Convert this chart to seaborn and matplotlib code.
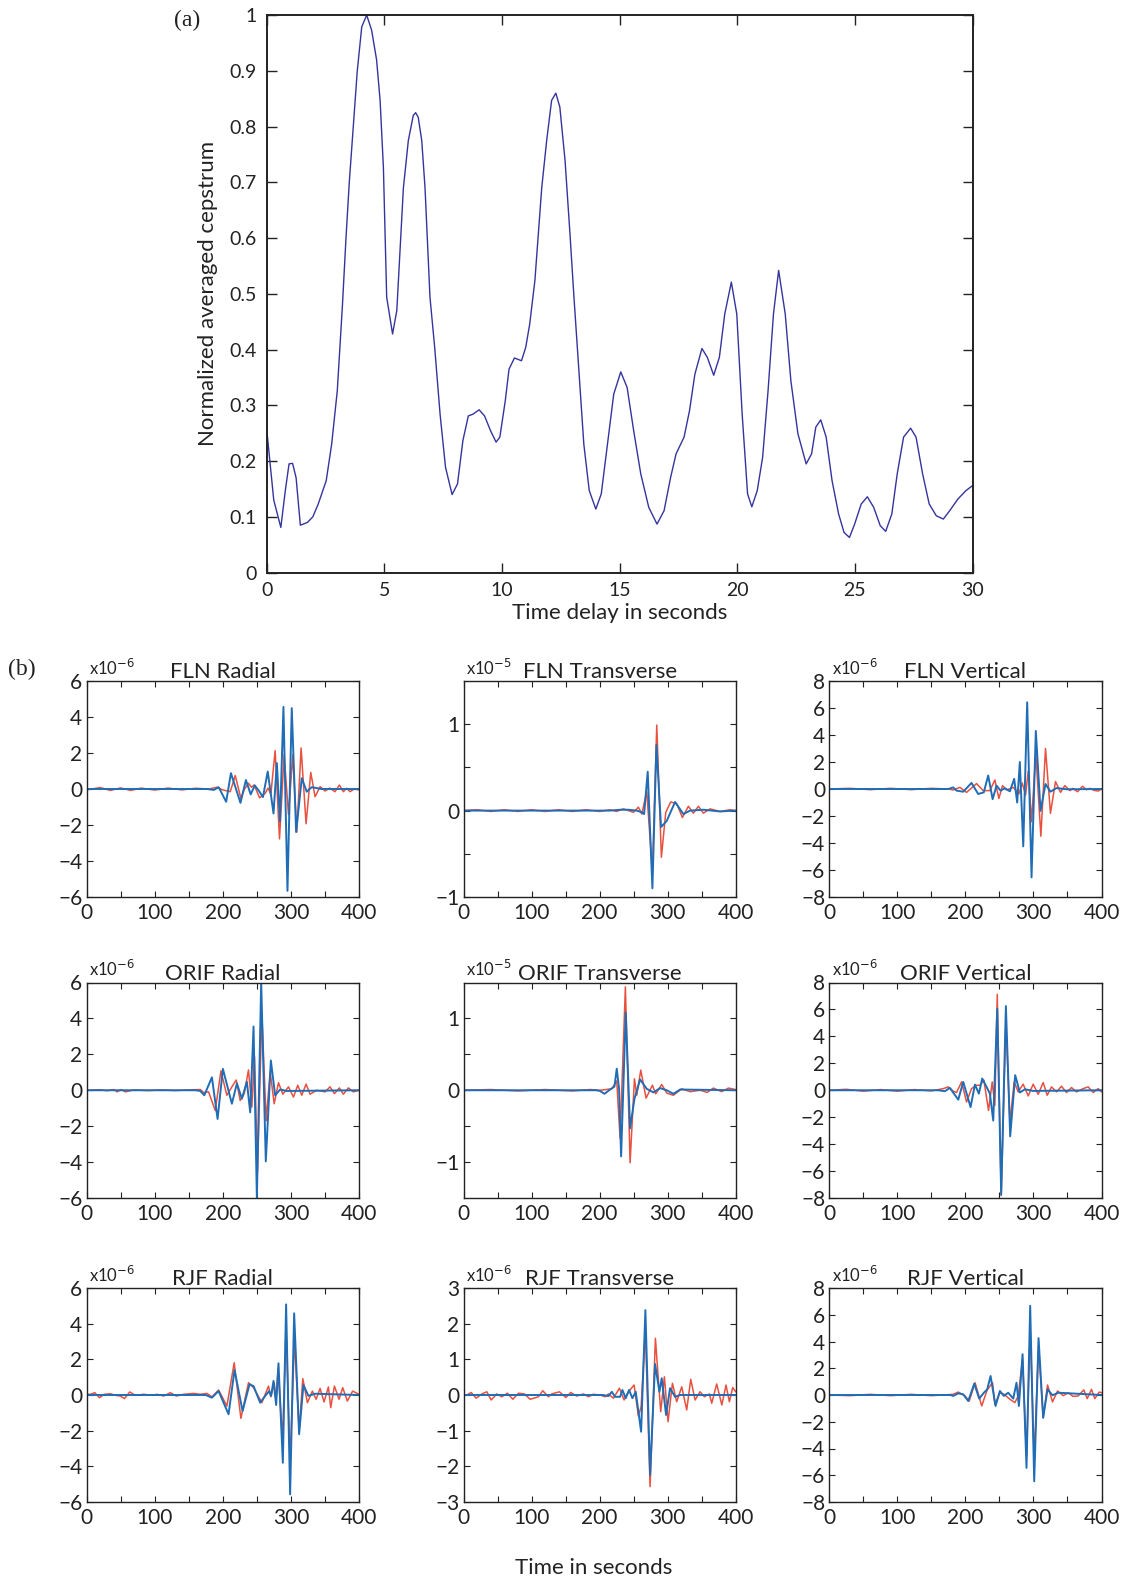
import numpy as np
import pandas as pd
import matplotlib
matplotlib.use("Agg")
import matplotlib.pyplot as plt
from matplotlib import font_manager
import seaborn as sns

# ---------------- data: panel (a) ----------------
top_t = [0, 0.3, 0.6, 0.8, 0.95, 1.1, 1.25, 1.43, 1.73, 1.96,
         2.19, 2.53, 2.76, 3.0, 3.22, 3.37, 3.51, 3.68, 3.85, 4.04,
         4.25, 4.46, 4.67, 4.82, 4.96, 5.1, 5.35, 5.53, 5.81, 6.02,
         6.23, 6.33, 6.44, 6.59, 6.73, 6.94, 7.14, 7.37, 7.6, 7.88,
         8.11, 8.34, 8.57, 8.76, 9.03, 9.26, 9.52, 9.75, 9.91, 10.14,
         10.3, 10.53, 10.83, 11.01, 11.18, 11.4, 11.69, 11.9, 12.11, 12.29,
         12.46, 12.68, 12.89, 13.06, 13.25, 13.48, 13.71, 13.99, 14.22, 14.47,
         14.75, 15.05, 15.32, 15.6, 15.9, 16.24, 16.59, 16.89, 17.17, 17.4,
         17.74, 17.97, 18.2, 18.5, 18.73, 19.0, 19.24, 19.47, 19.75, 19.98,
         20.21, 20.44, 20.62, 20.85, 21.08, 21.31, 21.54, 21.76, 22.04, 22.28,
         22.58, 22.93, 23.16, 23.34, 23.55, 23.78, 24.03, 24.31, 24.54, 24.77,
         24.99, 25.27, 25.53, 25.8, 26.08, 26.31, 26.57, 26.8, 27.07, 27.37,
         27.6, 27.88, 28.16, 28.46, 28.76, 29.03, 29.38, 29.72, 30.0]
top_v = [0.257, 0.13, 0.081, 0.15, 0.195, 0.196, 0.17, 0.085, 0.09, 0.10,
         0.123, 0.165, 0.23, 0.326, 0.48, 0.6, 0.7, 0.8, 0.9, 0.979,
         1.0, 0.973, 0.92, 0.847, 0.727, 0.494, 0.428, 0.47, 0.69, 0.775,
         0.82, 0.825, 0.817, 0.775, 0.69, 0.494, 0.404, 0.284, 0.189, 0.14,
         0.159, 0.237, 0.281, 0.284, 0.292, 0.281, 0.254, 0.234, 0.243, 0.308,
         0.365, 0.385, 0.380, 0.404, 0.446, 0.524, 0.69, 0.775, 0.847, 0.86,
         0.835, 0.74, 0.608, 0.494, 0.374, 0.23, 0.147, 0.114, 0.141, 0.225,
         0.32, 0.36, 0.332, 0.254, 0.177, 0.117, 0.087, 0.111, 0.171, 0.213,
         0.243, 0.29, 0.356, 0.402, 0.386, 0.354, 0.386, 0.464, 0.521, 0.464,
         0.284, 0.141, 0.118, 0.147, 0.207, 0.326, 0.464, 0.542, 0.464, 0.344,
         0.249, 0.195, 0.213, 0.261, 0.274, 0.243, 0.165, 0.105, 0.072, 0.063,
         0.087, 0.123, 0.136, 0.117, 0.084, 0.074, 0.105, 0.177, 0.243, 0.259,
         0.243, 0.177, 0.123, 0.102, 0.096, 0.111, 0.132, 0.147, 0.156]

# ---------------- data: panel (b) ----------------
# FLN Radial (x1e-6)
fln_rad_blue_t = [0, 150, 177, 187, 194, 205, 212, 226, 234, 241, 247, 253, 259, 266, 274.5, 279.4, 284, 289.1, 295, 301.3, 307.7, 316, 323.3, 330.6, 345, 400]
fln_rad_blue_v = [0, 0, 0, -0.05, 0.1, -0.71, 0.88, -0.77, 0.5, -0.3, 0.2, -0.1, -0.45, 0.97, -1.36, 1.44, -1.8, 4.56, -5.66, 4.49, -2.39, 0.6, -0.15, 0.1, 0, 0]
fln_rad_red_t = [0, 20, 35, 50, 65, 80, 100, 120, 140, 160, 180, 191.5, 200, 211, 218.3, 226.6, 232, 237.8, 242, 246.2, 254, 262.3, 266.5, 270.6, 276.9, 283.3, 290.1, 296.5, 302.8, 308.7, 315, 322.3, 329.2, 335.5, 342.9, 350.2, 357, 364.8, 371.2, 377, 381.9, 386.8, 393, 400]
fln_rad_red_v = [-0.05, 0.08, -0.08, 0.06, -0.08, 0.05, -0.06, 0.05, -0.05, 0.04, 0, 0.1, -0.05, -0.15, 0.75, -0.52, 0.0, 0.32, 0.1, 0.22, -0.49, -0.24, 0.05, -0.3, 2.13, -2.77, 1.9, -1.42, 1.9, -2.39, 2.28, -1.93, 0.92, -0.43, 0.13, -0.11, 0.05, -0.15, 0.22, -0.15, 0.04, -0.15, 0.0, -0.05]

# FLN Transverse (x1e-5)
fln_tra_blue_t = [0, 215, 230, 242, 254.6, 261.9, 265.4, 270.7, 277.6, 283.5, 290.3, 298.6, 310.9, 323.1, 332.9, 352.5, 377, 400]
fln_tra_blue_v = [0, 0, 0.01, 0.01, 0, -0.02, -0.04, 0.45, -0.9, 0.76, -0.19, -0.12, 0.1, -0.04, 0, 0.01, -0.01, 0]
fln_tra_red_t = [0, 20, 40, 60, 80, 100, 120, 140, 160, 180, 200, 215, 225, 235, 249.7, 257, 262, 269.3, 277.6, 284, 290.8, 297.2, 304.5, 313.3, 321.7, 330.5, 337.8, 345.2, 352.5, 362.3, 377, 391.7, 400]
fln_tra_red_v = [0, 0.01, -0.01, 0.01, -0.01, 0.01, -0.01, 0.01, -0.01, 0.01, -0.01, 0.01, -0.01, 0.02, -0.02, 0.04, -0.04, 0.22, -0.71, 0.99, -0.54, -0.02, 0.1, 0.08, -0.08, 0.05, -0.03, 0.05, -0.03, 0.02, -0.01, 0.01, 0]

# FLN Vertical (x1e-6)
fln_ver_blue_t = [0, 175, 182, 187, 196.8, 209, 218.8, 227, 233.5, 240, 245.8, 251.6, 258, 265.4, 271.7, 276.1, 280, 285, 290.8, 297.2, 303.5, 310.4, 317.7, 325, 333.9, 348.6, 400]
fln_ver_blue_v = [0, 0, 0.12, -0.12, -0.2, 0.45, -0.37, -0.25, 1.0, -0.75, 0.25, -0.12, 0.05, -0.17, 0.75, -1.0, 2.0, -4.25, 6.42, -6.55, 4.3, -1.62, 0.37, -0.2, 0.07, -0.02, 0]
fln_ver_red_t = [0, 30, 60, 90, 120, 150, 175, 182, 192, 201.7, 216.4, 226.2, 236, 243.3, 249.2, 254.6, 260.5, 270.3, 278.6, 283.5, 288.4, 292.3, 297.2, 303.5, 310.9, 317.7, 325, 332.4, 339.8, 346.1, 353.5, 358, 364.7, 372.1, 378, 382.9, 389, 395.1, 400]
fln_ver_red_v = [0, 0.05, -0.05, 0.05, -0.05, 0.05, 0, -0.07, 0.12, -0.25, 0.4, -0.12, -0.12, 0.67, -0.7, 0.25, -0.07, 0.12, -0.37, 0.45, -0.45, 1.32, -2.42, 2.67, -3.5, 3.0, -1.8, 0.55, -0.25, 0.25, -0.12, 0.05, -0.2, 0.2, -0.05, 0.05, -0.1, -0.15, 0]

# ORIF Radial (x1e-6)
orif_rad_blue_t = [0, 160, 167, 172.9, 184.1, 192.4, 200.2, 213.4, 220.8, 228.1, 235.4, 240.3, 245.2, 250.1, 256.4, 263.2, 270.6, 276.9, 284.2, 294, 400]
orif_rad_blue_v = [0, 0, -0.04, -0.28, 0.72, -1.6, 1.19, -0.75, 0.38, -0.47, 0.47, -1.23, 3.55, -6.04, 6.04, -3.96, 1.66, -0.28, 0.04, -0.04, 0]
orif_rad_red_t = [0, 20, 30, 40, 45, 50.8, 57, 70, 90, 110, 130, 150, 167, 171.9, 179.2, 189, 197.3, 206, 213.4, 219.8, 225.6, 231.5, 237.8, 242.7, 246.6, 251, 257.4, 263.7, 269.6, 275.5, 281.8, 288.2, 296.5, 303.8, 310.1, 316, 322.3, 328.2, 338, 350.2, 357.5, 363.9, 371.2, 377, 384.4, 391.7, 400]
orif_rad_red_v = [0, 0.03, -0.03, 0.04, -0.09, 0.04, -0.09, 0.02, -0.02, 0.02, -0.02, 0.02, 0.04, -0.13, -0.09, -1.13, 1.08, -0.28, 0.19, 0.57, -0.57, -0.19, 1.13, -0.94, 1.89, -4.53, 4.25, -1.7, 1.04, -0.75, 0.42, -0.22, 0.19, -0.38, 0.28, -0.28, 0.34, -0.22, 0.0, -0.09, 0.19, -0.19, 0.13, -0.22, 0.13, -0.09, 0]

# ORIF Transverse (x1e-5)
orif_tra_blue_t = [0, 195, 200.7, 207.1, 215.4, 221.8, 225.2, 228.6, 231.6, 238.4, 244.8, 251.2, 259.5, 269.3, 279.1, 288.9, 298.7, 308.4, 318.2, 400]
orif_tra_blue_v = [0, 0, -0.01, -0.05, 0.01, 0.05, 0.3, 0.02, -0.92, 1.08, -0.53, -0.12, 0.15, 0.02, -0.03, 0.03, 0, -0.05, 0.01, 0]
orif_tra_red_t = [0, 40, 80, 120, 160, 186, 200.7, 217.9, 225.2, 230.1, 237.9, 244.8, 251.2, 254.6, 260.5, 268.3, 277.6, 282.5, 291.3, 298.7, 308.4, 320.7, 333, 347.6, 358, 367.2, 379.4, 389.2, 400]
orif_tra_red_v = [0, 0.01, -0.01, 0.01, -0.01, 0.01, 0, 0.02, 0.13, -0.67, 1.44, -1.01, 0.16, -0.07, 0.28, -0.11, 0.07, -0.05, 0.08, -0.04, -0.07, 0.02, -0.02, 0, -0.03, 0.03, -0.02, 0.03, 0.01]

# ORIF Vertical (x1e-6)
orif_ver_blue_t = [0, 160, 169.9, 177.2, 189.5, 196.8, 207.6, 214, 219.8, 224.7, 231.1, 236, 240.9, 246.8, 252.6, 259.5, 265.8, 273.2, 280, 287.4, 299.6, 400]
orif_ver_blue_v = [0, 0, -0.07, 0.17, -0.7, 0.62, -1.25, 0.42, -0.25, 0.87, 0.25, -0.25, -2.25, 6.05, -7.75, 6.25, -3.42, 1.12, -0.17, 0.07, -0.05, 0]
orif_ver_red_t = [0, 25, 50, 75, 100, 125, 150, 167.4, 174.8, 182.1, 187, 194.4, 201.7, 209, 216.4, 221.3, 227.2, 234, 239.4, 243.3, 246.8, 252.6, 259.5, 265.4, 271.7, 277.6, 284.9, 292.3, 299.6, 307, 314.3, 320.2, 326.6, 333.9, 341.2, 348.6, 355.9, 363.3, 373.1, 380.4, 387.8, 395.1, 400]
orif_ver_red_v = [0, 0.07, -0.07, 0.05, -0.07, 0.05, -0.05, 0.12, 0.25, -0.07, -0.17, 0.62, -0.87, 0.12, 0.37, 0.37, 0.75, -1.5, 0.62, -1.12, 7.12, -7.82, 5.12, -2.37, 0.62, -0.12, 0.45, -0.42, 0.45, -0.3, 0.57, -0.37, 0.25, -0.12, 0.3, -0.17, 0.2, -0.12, 0.12, 0.25, -0.17, 0.12, -0.12]

# RJF Radial (x1e-6)
rjf_rad_blue_t = [0, 175, 184.1, 193.9, 208.5, 217.3, 229.1, 239.3, 245.2, 254.9, 262.3, 268.1, 271, 274.5, 278.4, 281.8, 288.2, 293, 298.9, 304.8, 312.1, 318.4, 325.8, 335.5, 400]
rjf_rad_blue_v = [0, 0, -0.15, 0.22, -1.08, 1.4, -0.9, 0.6, 0.5, -0.43, -0.05, 0.22, -0.05, 0.79, -0.56, 1.78, -3.8, 5.08, -5.57, 4.58, -2.2, 0.56, -0.05, 0.07, 0]
rjf_rad_red_t = [0, 5.9, 12.2, 19, 26.4, 35.2, 42.5, 49.8, 55.7, 63.5, 71.8, 84, 96.2, 103.5, 113.3, 123, 131.9, 142.6, 157.3, 167, 176.8, 184.1, 193.9, 206.1, 216.8, 226.6, 237.8, 245.2, 257.4, 267.2, 270.5, 275.5, 278.2, 281.2, 287.7, 293, 298.9, 305.3, 312.1, 317.5, 324.3, 331.6, 337, 342.9, 348.7, 355.1, 358.5, 363.9, 370.7, 376.1, 382.9, 390.7, 400]
rjf_rad_red_v = [0.04, 0.04, 0.13, -0.15, 0.04, 0.07, -0.02, -0.06, -0.2, 0.17, -0.02, 0.04, -0.02, 0.04, -0.06, 0.13, -0.06, 0.04, 0.09, 0.04, 0.09, -0.11, 0.28, -0.62, 1.81, -1.31, 0.69, 0.41, -0.43, 0.5, -0.1, 0.7, -0.3, 1.5, -2.49, 3.68, -3.7, 3.12, -2.02, 0.92, -0.43, 0.22, -0.24, 0.37, -0.39, 0.45, -0.71, 0.5, -0.24, 0.41, -0.34, 0.22, 0.04]

# RJF Transverse (x1e-6)
rjf_tra_blue_t = [0, 205, 213, 217.9, 222.8, 230.1, 233.5, 238.4, 243.3, 248.2, 253.1, 261, 267.3, 274.2, 281.5, 287.9, 291.3, 297.7, 303.5, 310.9, 318.2, 400]
rjf_tra_blue_v = [0, 0, -0.03, 0.09, -0.05, -0.05, 0.14, -0.09, 0.14, -0.09, 0.09, -1.03, 2.38, -2.24, 0.87, 0.09, 0.47, -0.56, 0.19, -0.05, 0, 0]
rjf_tra_red_t = [0, 4.9, 11.3, 18.6, 26.9, 34.3, 40.6, 49, 56.3, 64.6, 72.5, 80.8, 89.6, 97.9, 110.2, 116.5, 124.8, 129.7, 141, 150.3, 157.6, 166.5, 176.3, 183.6, 190.9, 200.7, 208.1, 213, 220.3, 229.1, 236, 242.3, 250.7, 257, 261, 267.3, 274.2, 282, 289.8, 295.2, 300.6, 307, 313.3, 320.7, 328, 333.9, 340.3, 347.6, 353.9, 361.3, 364.8, 372.1, 379.6, 385.8, 390.7, 395.6, 400]
rjf_tra_red_v = [0, 0, 0.07, -0.09, 0.03, 0.09, -0.14, 0.03, -0.05, 0.05, -0.12, 0.05, 0.03, -0.12, -0.05, 0.12, -0.05, 0.03, 0.09, -0.07, 0.07, -0.03, 0.03, -0.05, 0.02, 0, -0.05, 0.03, -0.09, 0.19, -0.14, 0.09, 0.28, -0.59, -0.33, 1.8, -2.57, 1.59, -0.47, 0.51, -0.75, 0.33, -0.19, 0.23, -0.42, 0.44, -0.14, 0.09, -0.05, 0.03, -0.23, 0.31, -0.28, 0.28, -0.19, 0.21, 0.09]

# RJF Vertical (x1e-6)
rjf_ver_blue_t = [0, 178, 182, 189.5, 196.8, 204.2, 213, 220.3, 227.2, 232, 237, 244.3, 250.7, 256.5, 262.9, 270.3, 275.1, 278.6, 284, 289.8, 295.2, 301.1, 307.5, 314.3, 320.7, 328, 336.4, 400]
rjf_ver_blue_v = [0, 0, -0.07, 0.12, 0.05, -0.45, 0.85, -0.27, 0.17, 0.42, 1.42, -0.82, 0.3, -0.07, 0.17, -0.27, 0.92, -0.82, 3.05, -5.45, 6.67, -6.45, 4.25, -1.7, 0.42, -0.02, 0.17, 0]
rjf_ver_red_t = [0, 30, 60, 90, 120, 150, 182, 189.5, 199.3, 205.6, 214.2, 224, 232, 239.9, 243.3, 250.7, 257, 265.4, 272.7, 277.6, 284, 289.8, 295.2, 301.1, 307.5, 314.3, 320.7, 328, 335.4, 343.7, 351, 358, 365.7, 374, 379, 385.3, 390.2, 396.6, 400]
rjf_ver_red_v = [0, -0.05, 0.05, -0.05, 0.05, -0.05, 0.05, 0.22, -0.07, -0.45, 0.92, -0.82, 0.38, 0.92, -0.7, 0.17, 0.05, -0.32, -0.57, -0.07, 2.67, -4.58, 4.92, -4.7, 3.67, -1.7, 0.75, -0.52, 0.3, -0.05, 0.17, -0.1, -0.07, 0.38, -0.27, 0.42, -0.27, 0.22, 0.17]

panel_titles = ["FLN Radial", "FLN Transverse", "FLN Vertical",
                "ORIF Radial", "ORIF Transverse", "ORIF Vertical",
                "RJF Radial", "RJF Transverse", "RJF Vertical"]
panel_exponents = [-6, -5, -6, -6, -5, -6, -6, -6, -6]
top_xticks = [0, 5, 10, 15, 20, 25, 30]
top_yticks = [0, 0.1, 0.2, 0.3, 0.4, 0.5, 0.6, 0.7, 0.8, 0.9, 1.0]
top_yticklabels = ["0", "0.1", "0.2", "0.3", "0.4", "0.5", "0.6", "0.7", "0.8", "0.9", "1"]
small_xticks = [0, 50, 100, 150, 200, 250, 300, 350, 400]
small_xticklabels = ["0", "", "100", "", "200", "", "300", "", "400"]

# ---------------- style ----------------
sns.set_style("ticks")
avail = {f.name for f in font_manager.fontManager.ttflist}
SANS = "Lato" if "Lato" in avail else "DejaVu Sans"
NARROW = "Liberation Sans Narrow" if "Liberation Sans Narrow" in avail else SANS
SERIF = "Liberation Serif" if "Liberation Serif" in avail else "DejaVu Serif"
plt.rcParams["font.family"] = [SANS, "DejaVu Sans"]
plt.rcParams["axes.unicode_minus"] = True

RED = "#e8503f"
BLUE = "#1f6db6"
NAVY = "#34349e"
INK = "#222222"

fig = plt.figure(figsize=(11.26, 15.83), dpi=100)
W, H = 1126.0, 1583.0


def px_axes(left, top, right, bottom):
    return fig.add_axes([left / W, 1 - bottom / H, (right - left) / W, (bottom - top) / H])


# ---------------- panel (a) ----------------
ax = px_axes(266.7, 15.1, 972.5, 572.6)
sns.lineplot(x=top_t, y=top_v, ax=ax, color=NAVY, linewidth=1.0, estimator=None, sort=False)
ax.set_xlim(0, 30)
ax.set_ylim(0, 1)
ax.set_xticks(top_xticks)
ax.set_xticklabels([str(v) for v in top_xticks])
ax.set_yticks(top_yticks)
ax.set_yticklabels(top_yticklabels)
ax.tick_params(direction="in", top=True, right=True, length=7, width=1.0,
               labelsize=14, pad=7, colors=INK)
for lab in ax.get_xticklabels() + ax.get_yticklabels():
    lab.set_fontfamily([NARROW, "DejaVu Sans"])
for s in ax.spines.values():
    s.set_linewidth(1.4)
    s.set_color(INK)
ax.set_xlabel("Time delay in seconds", fontsize=16, labelpad=3, color=INK)
ax.set_ylabel("Normalized averaged cepstrum", fontsize=16, labelpad=8, color=INK)
fig.text(187 / W, 1 - 20 / H, "(a)", fontsize=17, family=SERIF, ha="center", va="center", color=INK)

# ---------------- panel (b) ----------------
col_lr = [(86.5, 359.0), (463.5, 735.7), (829.3, 1101.5)]
row_tb = [(681.0, 897.0), (982.5, 1198.0), (1288.0, 1502.0)]

panel_series = [
    (fln_rad_red_t, fln_rad_red_v, fln_rad_blue_t, fln_rad_blue_v),
    (fln_tra_red_t, fln_tra_red_v, fln_tra_blue_t, fln_tra_blue_v),
    (fln_ver_red_t, fln_ver_red_v, fln_ver_blue_t, fln_ver_blue_v),
    (orif_rad_red_t, orif_rad_red_v, orif_rad_blue_t, orif_rad_blue_v),
    (orif_tra_red_t, orif_tra_red_v, orif_tra_blue_t, orif_tra_blue_v),
    (orif_ver_red_t, orif_ver_red_v, orif_ver_blue_t, orif_ver_blue_v),
    (rjf_rad_red_t, rjf_rad_red_v, rjf_rad_blue_t, rjf_rad_blue_v),
    (rjf_tra_red_t, rjf_tra_red_v, rjf_tra_blue_t, rjf_tra_blue_v),
    (rjf_ver_red_t, rjf_ver_red_v, rjf_ver_blue_t, rjf_ver_blue_v),
]

y_specs = {
    "Radial": ((-6, 6), [-6, -4, -2, 0, 2, 4, 6], ["−6", "−4", "−2", "0", "2", "4", "6"]),
    "Vertical": ((-8, 8), [-8, -6, -4, -2, 0, 2, 4, 6, 8],
                 ["−8", "−6", "−4", "−2", "0", "2", "4", "6", "8"]),
}

for i, title in enumerate(panel_titles):
    r, c = divmod(i, 3)
    (l, rr), (tp, bt) = col_lr[c], row_tb[r]
    ax = px_axes(l, tp, rr, bt)
    rt, rv, bt_, bv = panel_series[i]
    sns.lineplot(x=rt, y=rv, ax=ax, color=RED, linewidth=1.1, estimator=None, sort=False)
    sns.lineplot(x=bt_, y=bv, ax=ax, color=BLUE, linewidth=1.4, estimator=None, sort=False)
    ax.set_xlim(0, 400)
    comp = title.split()[1]
    if comp in y_specs:
        lim, ticks, labels = y_specs[comp]
    elif title == "FLN Transverse":
        lim, ticks, labels = (-1, 1.5), [-1, -0.5, 0, 0.5, 1], ["−1", "", "0", "", "1"]
    elif title == "ORIF Transverse":
        lim, ticks, labels = (-1.5, 1.5), [-1, -0.5, 0, 0.5, 1], ["−1", "", "0", "", "1"]
    else:
        lim, ticks, labels = (-3, 3), [-3, -2, -1, 0, 1, 2, 3], ["−3", "−2", "−1", "0", "1", "2", "3"]
    ax.set_ylim(*lim)
    ax.set_yticks(ticks)
    ax.set_yticklabels(labels)
    ax.set_xticks(small_xticks)
    ax.set_xticklabels(small_xticklabels)
    ax.tick_params(direction="in", top=True, right=True, length=4, width=0.8,
                   labelsize=15, pad=3, colors=INK)
    ax.tick_params(axis="x", pad=4)
    for s in ax.spines.values():
        s.set_linewidth(1.0)
        s.set_color(INK)
    ax.set_xlabel("")
    ax.set_ylabel("")
    ax.set_title(title, fontsize=16, pad=2, color=INK)
    ax.text(0.01, 1.015, r"x10$^{%d}$" % panel_exponents[i], transform=ax.transAxes,
            fontsize=12, ha="left", va="bottom", color=INK)

fig.text(22 / W, 1 - 669 / H, "(b)", fontsize=17, family=SERIF, ha="center", va="center", color=INK)
fig.text(594 / W, 1 - 1568 / H, "Time in seconds", fontsize=16, ha="center", va="center", color=INK)

fig.savefig("out.png", dpi=100)
